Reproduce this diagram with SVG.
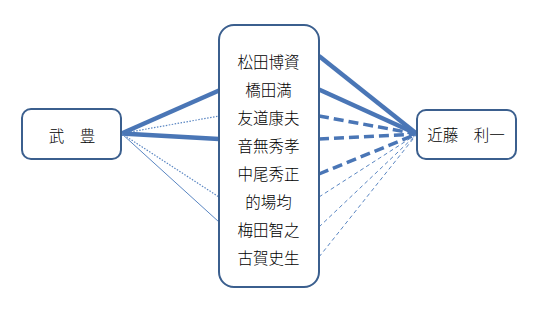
<svg xmlns="http://www.w3.org/2000/svg" width="534" height="309" viewBox="0 0 534 309">
<style>
.box{fill:#fff;stroke:#3b5f8e;stroke-width:2}
.t{font-family:"Noto Sans CJK JP","Noto Sans CJK SC",sans-serif;font-size:15.5px;font-weight:300;fill:#000;text-anchor:middle}
.thick{stroke:#4a76b6;stroke-width:4.5;fill:none}
.thickd{stroke:#4a76b6;stroke-width:3.5;stroke-dasharray:10 5;fill:none}
.thin{stroke:#5a86c2;stroke-width:1;fill:none}
.dot{stroke:#5a86c2;stroke-width:1.2;stroke-dasharray:1.5 1.5;fill:none}
.thind{stroke:#5a86c2;stroke-width:1;stroke-dasharray:4 3;fill:none}
</style>
<rect width="534" height="309" fill="#fff"/>
<g id="connectors">
<line class="thick" x1="121.5" y1="133.5" x2="219" y2="90.5"/>
<line class="dot" x1="121.5" y1="133.5" x2="219" y2="116"/>
<line class="thick" x1="121.5" y1="133.5" x2="219" y2="139"/>
<line class="dot" x1="121.5" y1="133.5" x2="219" y2="197"/>
<line class="thin" x1="121.5" y1="133.5" x2="219" y2="222"/>
<line class="thick" x1="319" y1="56" x2="417" y2="134"/>
<line class="thick" x1="319" y1="89.5" x2="417" y2="134"/>
<line class="thickd" x1="319" y1="116" x2="417" y2="134"/>
<line class="thickd" x1="319" y1="139" x2="417" y2="134"/>
<line class="thickd" x1="319" y1="174" x2="417" y2="134"/>
<line class="thind" x1="319" y1="197" x2="417" y2="134"/>
<line class="thind" x1="319" y1="227" x2="417" y2="134"/>
<line class="thind" x1="319" y1="257" x2="417" y2="134"/>
</g>
<g id="take">
<rect class="box" x="22" y="109" width="99" height="50" rx="9"/>
<text class="t" x="72" y="141.5">武　豊</text>
</g>
<g id="trainers">
<rect class="box" x="219" y="25" width="100" height="262" rx="15"/>
<text class="t" x="268.5" y="67.5">松田博資</text>
<text class="t" x="268.5" y="95.5">橋田満</text>
<text class="t" x="268.5" y="123.5">友道康夫</text>
<text class="t" x="268.5" y="151.5">音無秀孝</text>
<text class="t" x="268.5" y="179.5">中尾秀正</text>
<text class="t" x="268.5" y="207.5">的場均</text>
<text class="t" x="268.5" y="235.5">梅田智之</text>
<text class="t" x="268.5" y="263.5">古賀史生</text>
</g>
<g id="kondo">
<rect class="box" x="417" y="110" width="99" height="49" rx="9"/>
<text class="t" x="466" y="141">近藤　利一</text>
</g>
</svg>
